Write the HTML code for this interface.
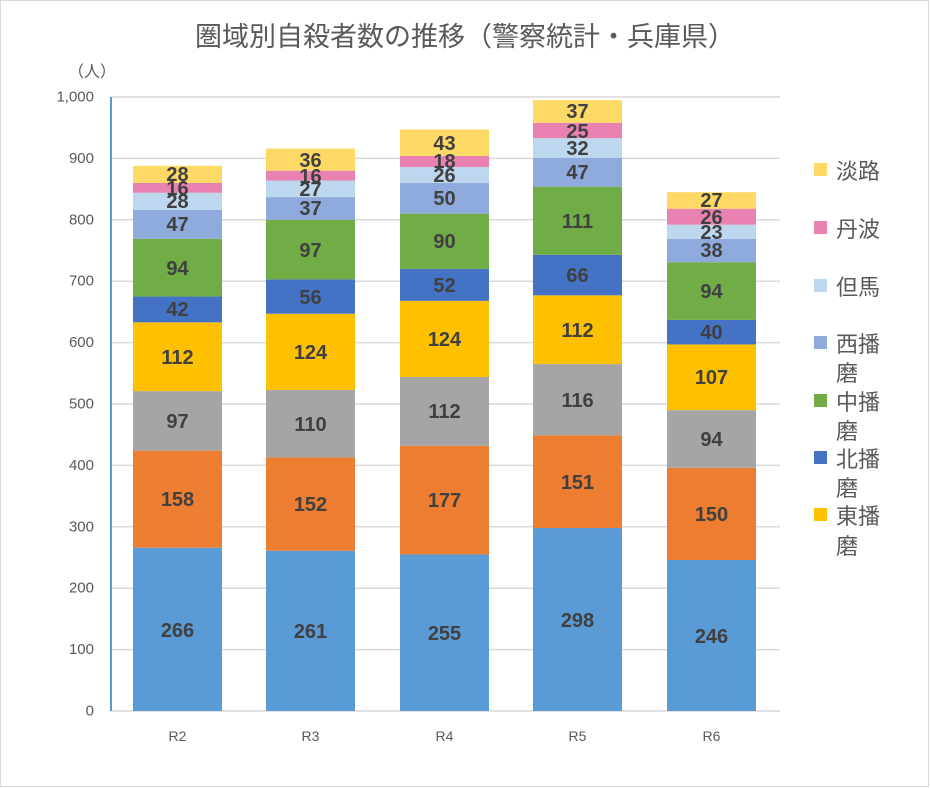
<!DOCTYPE html>
<html><head><meta charset="utf-8"><style>
body{margin:0;background:#fff}
svg{display:block}
text{font-family:"Liberation Sans","Noto Sans CJK JP",sans-serif}
.l{font-size:20px;font-weight:bold;fill:#404040;text-anchor:middle;dominant-baseline:central}
.y{font-size:15px;fill:#595959;text-anchor:end;dominant-baseline:central}
.x{font-size:14px;fill:#595959;text-anchor:middle}
.g{font-size:22px;fill:#595959}
</style></head><body>
<svg width="930" height="788" viewBox="0 0 930 788">
<rect x="0.5" y="0.5" width="928" height="786" fill="#fff" stroke="#d9d9d9"/>
<text x="465" y="46" text-anchor="middle" style="font-size:27px;fill:#595959">圏域別自殺者数の推移（警察統計・兵庫県）</text>
<text x="68" y="77" style="font-size:16px;fill:#595959">（人）</text>
<g stroke="#d9d9d9" stroke-width="1.5">
<line x1="111" x2="780" y1="97" y2="97"/><line x1="111" x2="780" y1="158.4" y2="158.4"/><line x1="111" x2="780" y1="219.8" y2="219.8"/><line x1="111" x2="780" y1="281.2" y2="281.2"/><line x1="111" x2="780" y1="342.6" y2="342.6"/><line x1="111" x2="780" y1="404" y2="404"/><line x1="111" x2="780" y1="465.4" y2="465.4"/><line x1="111" x2="780" y1="526.8" y2="526.8"/><line x1="111" x2="780" y1="588.2" y2="588.2"/><line x1="111" x2="780" y1="649.6" y2="649.6"/><line x1="111" x2="780" y1="711" y2="711"/>
</g>
<g class="y"><text x="94" y="97">1,000</text><text x="94" y="158.4">900</text><text x="94" y="219.8">800</text><text x="94" y="281.2">700</text><text x="94" y="342.6">600</text><text x="94" y="404">500</text><text x="94" y="465.4">400</text><text x="94" y="526.8">300</text><text x="94" y="588.2">200</text><text x="94" y="649.6">100</text><text x="94" y="711">0</text></g>
<g transform="translate(0,711) scale(1,-0.614)">
<rect x="133" y="0" width="89" height="266" fill="#5B9BD5"/><rect x="133" y="266" width="89" height="158" fill="#ED7D31"/><rect x="133" y="424" width="89" height="97" fill="#A5A5A5"/><rect x="133" y="521" width="89" height="112" fill="#FFC000"/><rect x="133" y="633" width="89" height="42" fill="#4472C4"/><rect x="133" y="675" width="89" height="94" fill="#70AD47"/><rect x="133" y="769" width="89" height="47" fill="#8FAADC"/><rect x="133" y="816" width="89" height="28" fill="#BDD7EE"/><rect x="133" y="844" width="89" height="16" fill="#E982B0"/><rect x="133" y="860" width="89" height="28" fill="#FFD966"/>
<rect x="266" y="0" width="89" height="261" fill="#5B9BD5"/><rect x="266" y="261" width="89" height="152" fill="#ED7D31"/><rect x="266" y="413" width="89" height="110" fill="#A5A5A5"/><rect x="266" y="523" width="89" height="124" fill="#FFC000"/><rect x="266" y="647" width="89" height="56" fill="#4472C4"/><rect x="266" y="703" width="89" height="97" fill="#70AD47"/><rect x="266" y="800" width="89" height="37" fill="#8FAADC"/><rect x="266" y="837" width="89" height="27" fill="#BDD7EE"/><rect x="266" y="864" width="89" height="16" fill="#E982B0"/><rect x="266" y="880" width="89" height="36" fill="#FFD966"/>
<rect x="400" y="0" width="89" height="255" fill="#5B9BD5"/><rect x="400" y="255" width="89" height="177" fill="#ED7D31"/><rect x="400" y="432" width="89" height="112" fill="#A5A5A5"/><rect x="400" y="544" width="89" height="124" fill="#FFC000"/><rect x="400" y="668" width="89" height="52" fill="#4472C4"/><rect x="400" y="720" width="89" height="90" fill="#70AD47"/><rect x="400" y="810" width="89" height="50" fill="#8FAADC"/><rect x="400" y="860" width="89" height="26" fill="#BDD7EE"/><rect x="400" y="886" width="89" height="18" fill="#E982B0"/><rect x="400" y="904" width="89" height="43" fill="#FFD966"/>
<rect x="533" y="0" width="89" height="298" fill="#5B9BD5"/><rect x="533" y="298" width="89" height="151" fill="#ED7D31"/><rect x="533" y="449" width="89" height="116" fill="#A5A5A5"/><rect x="533" y="565" width="89" height="112" fill="#FFC000"/><rect x="533" y="677" width="89" height="66" fill="#4472C4"/><rect x="533" y="743" width="89" height="111" fill="#70AD47"/><rect x="533" y="854" width="89" height="47" fill="#8FAADC"/><rect x="533" y="901" width="89" height="32" fill="#BDD7EE"/><rect x="533" y="933" width="89" height="25" fill="#E982B0"/><rect x="533" y="958" width="89" height="37" fill="#FFD966"/>
<rect x="667" y="0" width="89" height="246" fill="#5B9BD5"/><rect x="667" y="246" width="89" height="150" fill="#ED7D31"/><rect x="667" y="396" width="89" height="94" fill="#A5A5A5"/><rect x="667" y="490" width="89" height="107" fill="#FFC000"/><rect x="667" y="597" width="89" height="40" fill="#4472C4"/><rect x="667" y="637" width="89" height="94" fill="#70AD47"/><rect x="667" y="731" width="89" height="38" fill="#8FAADC"/><rect x="667" y="769" width="89" height="23" fill="#BDD7EE"/><rect x="667" y="792" width="89" height="26" fill="#E982B0"/><rect x="667" y="818" width="89" height="27" fill="#FFD966"/>
</g>
<line x1="111" y1="97" x2="111" y2="711" stroke="#5B9BD5" stroke-width="2"/>
<g class="l">
<text x="177.5" y="631">266</text><text x="177.5" y="500">158</text><text x="177.5" y="422">97</text><text x="177.5" y="358">112</text><text x="177.5" y="310">42</text><text x="177.5" y="269">94</text><text x="177.5" y="225">47</text><text x="177.5" y="202">28</text><text x="177.5" y="189">16</text><text x="177.5" y="175">28</text>
<text x="310.5" y="632">261</text><text x="310.5" y="505">152</text><text x="310.5" y="425">110</text><text x="310.5" y="353">124</text><text x="310.5" y="298">56</text><text x="310.5" y="251">97</text><text x="310.5" y="209">37</text><text x="310.5" y="190">27</text><text x="310.5" y="177">16</text><text x="310.5" y="161">36</text>
<text x="444.5" y="634">255</text><text x="444.5" y="501">177</text><text x="444.5" y="412">112</text><text x="444.5" y="340">124</text><text x="444.5" y="286">52</text><text x="444.5" y="242">90</text><text x="444.5" y="199">50</text><text x="444.5" y="176">26</text><text x="444.5" y="162">18</text><text x="444.5" y="144">43</text>
<text x="577.5" y="621">298</text><text x="577.5" y="483">151</text><text x="577.5" y="401">116</text><text x="577.5" y="331">112</text><text x="577.5" y="276">66</text><text x="577.5" y="222">111</text><text x="577.5" y="173">47</text><text x="577.5" y="149">32</text><text x="577.5" y="132">25</text><text x="577.5" y="112">37</text>
<text x="711.5" y="637">246</text><text x="711.5" y="515">150</text><text x="711.5" y="440">94</text><text x="711.5" y="378">107</text><text x="711.5" y="333">40</text><text x="711.5" y="292">94</text><text x="711.5" y="251">38</text><text x="711.5" y="233">23</text><text x="711.5" y="218">26</text><text x="711.5" y="201">27</text>
</g>
<g class="x"><text x="177.5" y="741">R2</text><text x="310.5" y="741">R3</text><text x="444.5" y="741">R4</text><text x="577.5" y="741">R5</text><text x="711.5" y="741">R6</text></g>
<g>
<rect x="814" y="163" width="13" height="13" fill="#FFD966"/><text class="g" x="836" y="179">淡路</text>
<rect x="814" y="221" width="13" height="13" fill="#E982B0"/><text class="g" x="836" y="237">丹波</text>
<rect x="814" y="279" width="13" height="13" fill="#BDD7EE"/><text class="g" x="836" y="295">但馬</text>
<rect x="814" y="336" width="13" height="13" fill="#8FAADC"/><text class="g" x="836" y="352">西播</text><text class="g" x="836" y="381">磨</text>
<rect x="814" y="394" width="13" height="13" fill="#70AD47"/><text class="g" x="836" y="410">中播</text><text class="g" x="836" y="439">磨</text>
<rect x="814" y="451" width="13" height="13" fill="#4472C4"/><text class="g" x="836" y="467">北播</text><text class="g" x="836" y="496">磨</text>
<rect x="814" y="508" width="13" height="13" fill="#FFC000"/><text class="g" x="836" y="524">東播</text><text class="g" x="836" y="554">磨</text>
</g>
</svg>
</body></html>
